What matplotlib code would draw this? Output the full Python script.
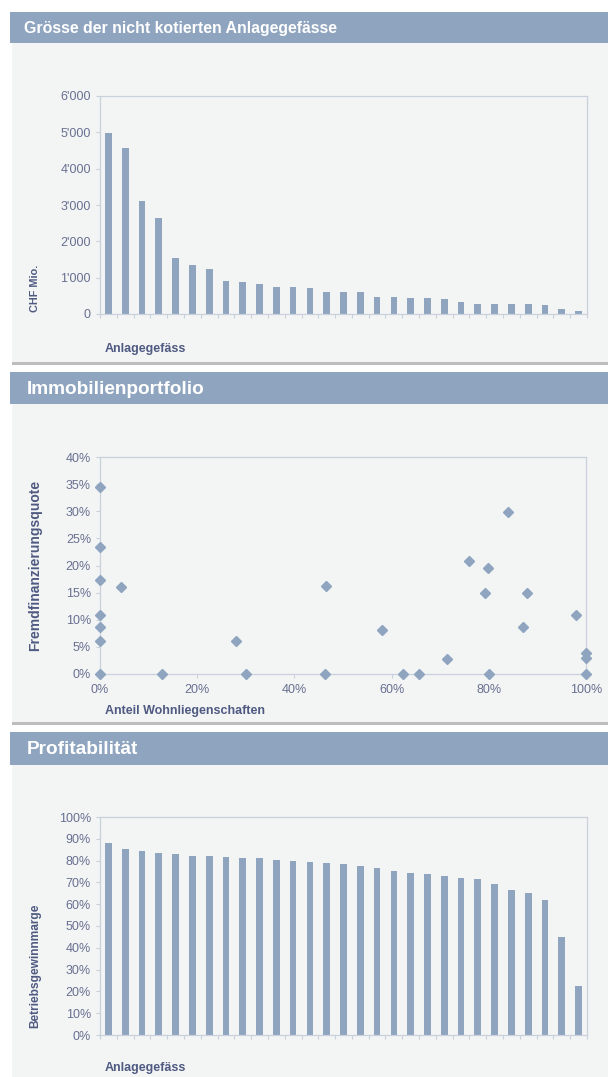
import matplotlib
matplotlib.use("Agg")
import matplotlib.pyplot as plt
from matplotlib.patches import Rectangle
from matplotlib.ticker import FuncFormatter, FixedLocator

# Grösse der Anlagegefässe in CHF Mio., absteigend sortiert
fund_size = [4970, 4580, 3110, 2640, 1530, 1345, 1245, 905, 885, 815,
             730, 730, 715, 615, 605, 595, 455, 455, 440, 430,
             400, 340, 285, 265, 265, 265, 255, 135, 80]

# Anteil Wohnliegenschaften vs. Fremdfinanzierungsquote (je Anlagegefäss)
residential_share = [0.0, 0.0, 0.0, 0.0, 0.0, 0.0, 0.0, 0.043, 0.127, 0.279,
                     0.300, 0.464, 0.463, 0.581, 0.624, 0.656, 0.714, 0.759,
                     0.799, 0.793, 0.801, 0.839, 0.878, 0.870, 0.979, 1.0,
                     1.0, 1.0]
debt_ratio = [0.345, 0.235, 0.173, 0.109, 0.087, 0.060, 0.0, 0.160, 0.0, 0.061,
              0.0, 0.163, 0.0, 0.082, 0.0, 0.0, 0.028, 0.208, 0.195, 0.149,
              0.0, 0.299, 0.149, 0.087, 0.109, 0.038, 0.030, 0.0]

# Betriebsgewinnmarge je Anlagegefäss
margin = [0.881, 0.853, 0.844, 0.835, 0.829, 0.821, 0.821, 0.815, 0.814, 0.812,
          0.803, 0.798, 0.792, 0.790, 0.786, 0.774, 0.766, 0.754, 0.742, 0.739,
          0.730, 0.721, 0.716, 0.692, 0.667, 0.653, 0.617, 0.449, 0.223]

titles = ["Grösse der nicht kotierten Anlagegefässe", "Immobilienportfolio", "Profitabilität"]
title_sizes = [11.4, 13.7, 13.7]
title_x = [24, 27, 27]

W, H = 608, 1077
BAR = "#8ea4bf"
HEAD = "#8fa5bf"
PANEL = "#f3f4f4"
TICK_C = "#687091"
LABEL_C = "#4f5a82"
SPINE = "#c9d1dd"

plt.rcParams["font.family"] = ["Liberation Sans", "DejaVu Sans"]

fig = plt.figure(figsize=(W / 100, H / 100), dpi=100)
fig.patch.set_facecolor("white")


def fx(px):
    return px / W


def fy(py):
    return 1 - py / H


def add_rect(x0, y0, x1, y1, color):
    fig.patches.append(Rectangle((fx(x0), fy(y1)), fx(x1) - fx(x0), fy(y0) - fy(y1),
                                 transform=fig.transFigure, facecolor=color,
                                 edgecolor="none", zorder=-10))


# panels: header band, grey body, shadow line underneath
sections = [(12, 43, 362), (372, 404, 722), (732, 765, 1077)]
for (h0, h1, p1), title, ts, tx in zip(sections, titles, title_sizes, title_x):
    add_rect(10, h0, W, h1, HEAD)
    add_rect(12, h1, W, p1, PANEL)
    if p1 < H:
        add_rect(12, p1, W, p1 + 3, "#bdbdbd")
    fig.text(fx(tx), fy((h0 + h1) / 2 + 1), title, color="white", fontsize=ts,
             fontweight="bold", va="center", ha="left")


def style_axes(ax):
    ax.set_facecolor(PANEL)
    for s in ax.spines.values():
        s.set_color(SPINE)
        s.set_linewidth(0.9)
    ax.tick_params(axis="both", colors=SPINE, labelcolor=TICK_C, labelsize=9,
                   length=3, width=0.8)


def axes_at(x0, y0, x1, y1):
    return fig.add_axes([fx(x0), fy(y1), fx(x1) - fx(x0), fy(y0) - fy(y1)])


# --- Grösse ---
ax1 = axes_at(100, 96, 587, 314)
style_axes(ax1)
idx = list(range(len(fund_size)))
ax1.bar(idx, fund_size, width=0.4, color=BAR)
ax1.set_xlim(-0.5, len(fund_size) - 0.5)
ax1.set_ylim(0, 6000)
ax1.xaxis.set_major_locator(FixedLocator([i - 0.5 for i in range(len(fund_size) + 1)]))
ax1.set_xticklabels([])
ax1.set_yticks(range(0, 6001, 1000))
ax1.yaxis.set_major_formatter(FuncFormatter(lambda v, p: f"{int(v):,}".replace(",", "'")))
fig.text(fx(105), fy(349), "Anlagegefäss", color=LABEL_C, fontsize=9,
         fontweight="bold", ha="left", va="center")
fig.text(fx(35), fy(288), "CHF Mio.", color=LABEL_C, fontsize=7.8,
         fontweight="bold", rotation=90, ha="center", va="center")

# --- Immobilienportfolio ---
ax2 = axes_at(100, 457, 586, 674)
style_axes(ax2)
ax2.plot(residential_share, debt_ratio, linestyle="none", marker="D", markersize=5.3,
         color=BAR, clip_on=False, zorder=3)
ax2.set_xlim(0, 1)
ax2.set_ylim(0, 0.4)
ax2.set_xticks([0, 0.2, 0.4, 0.6, 0.8, 1.0])
ax2.set_yticks([i * 0.05 for i in range(9)])
ax2.xaxis.set_major_formatter(FuncFormatter(lambda v, p: f"{round(v * 100)}%"))
ax2.yaxis.set_major_formatter(FuncFormatter(lambda v, p: f"{round(v * 100)}%"))
ax2.tick_params(axis="x", pad=4)
fig.text(fx(105), fy(711), "Anteil Wohnliegenschaften", color=LABEL_C, fontsize=9,
         fontweight="bold", ha="left", va="center")
fig.text(fx(35), fy(565), "Fremdfinanzierungsquote", color=LABEL_C, fontsize=10,
         fontweight="bold", rotation=90, ha="center", va="center")

# --- Profitabilität ---
ax3 = axes_at(100, 817, 587, 1035)
style_axes(ax3)
idx = list(range(len(margin)))
ax3.bar(idx, margin, width=0.4, color=BAR)
ax3.set_xlim(-0.5, len(margin) - 0.5)
ax3.set_ylim(0, 1)
ax3.xaxis.set_major_locator(FixedLocator([i - 0.5 for i in range(len(margin) + 1)]))
ax3.set_xticklabels([])
ax3.set_yticks([i / 10 for i in range(11)])
ax3.yaxis.set_major_formatter(FuncFormatter(lambda v, p: f"{round(v * 100)}%"))
fig.text(fx(105), fy(1068), "Anlagegefäss", color=LABEL_C, fontsize=9,
         fontweight="bold", ha="left", va="center")
fig.text(fx(35), fy(966), "Betriebsgewinnmarge", color=LABEL_C, fontsize=8.6,
         fontweight="bold", rotation=90, ha="center", va="center")

fig.savefig("out.png", dpi=100, facecolor="white")
